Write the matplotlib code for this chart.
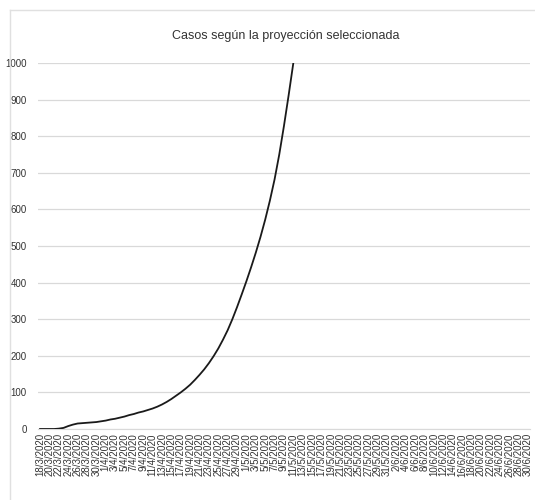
import datetime as dt

import matplotlib
matplotlib.use('Agg')
import matplotlib.pyplot as plt
from matplotlib.lines import Line2D

plt.rcParams['font.family'] = ['Liberation Sans Narrow', 'Liberation Sans', 'DejaVu Sans']

# fechas diarias del eje (18/3/2020 a 30/6/2020)
start = dt.date(2020, 3, 18)
fechas = [start + dt.timedelta(days=i) for i in range(105)]
etiquetas = ['%d/%d/%d' % (f.day, f.month, f.year) for f in fechas]

# casos proyectados, uno por dia desde 18/3/2020
casos = [0, 0, 0, 0, 1, 3, 8, 12, 15, 16,
         17, 18, 19, 21, 23, 26, 28, 31, 34, 38,
         41, 45, 48, 52, 56, 61, 67, 74, 82, 91,
         100, 110, 121, 134, 148, 163, 180, 199, 220, 244,
         270, 300, 333, 368, 404, 442, 482, 525, 572, 624,
         682, 750, 828, 912, 1000]

titulo = 'Casos según la proyección seleccionada'

fig = plt.figure(figsize=(5.35, 5.0), dpi=100)
ax = fig.add_axes([0.0705, 0.142, 0.9205, 0.732])

x = list(range(len(casos)))
ax.plot(x, casos, color='#1a1a1a', linewidth=1.3, zorder=3)

ax.set_xlim(-0.5, len(fechas) - 0.5)
ax.set_ylim(0, 1000)
ax.set_yticks(range(0, 1001, 100))
ax.set_xticks(range(0, len(fechas), 2))
ax.set_xticklabels(etiquetas[::2], rotation=90, fontsize=7, color='#333333')
ax.tick_params(axis='y', labelsize=7, colors='#333333', length=0, pad=8)
ax.tick_params(axis='x', length=0, pad=3)

ax.grid(axis='y', color='#d9d9d9', linewidth=0.9)
ax.set_axisbelow(True)
for s in ['top', 'right', 'left']:
    ax.spines[s].set_visible(False)
ax.spines['bottom'].set_color('#d9d9d9')

fig.text(0.535, 0.928, titulo, ha='center', va='center', fontsize=9, color='#333333')

# borde del area del grafico
fig.add_artist(Line2D([0.019, 1.0], [0.98, 0.98], color='#e0e0e0', linewidth=1, transform=fig.transFigure))
fig.add_artist(Line2D([0.019, 0.019], [0.0, 0.98], color='#e0e0e0', linewidth=1, transform=fig.transFigure))

fig.savefig('out.png', dpi=100)
